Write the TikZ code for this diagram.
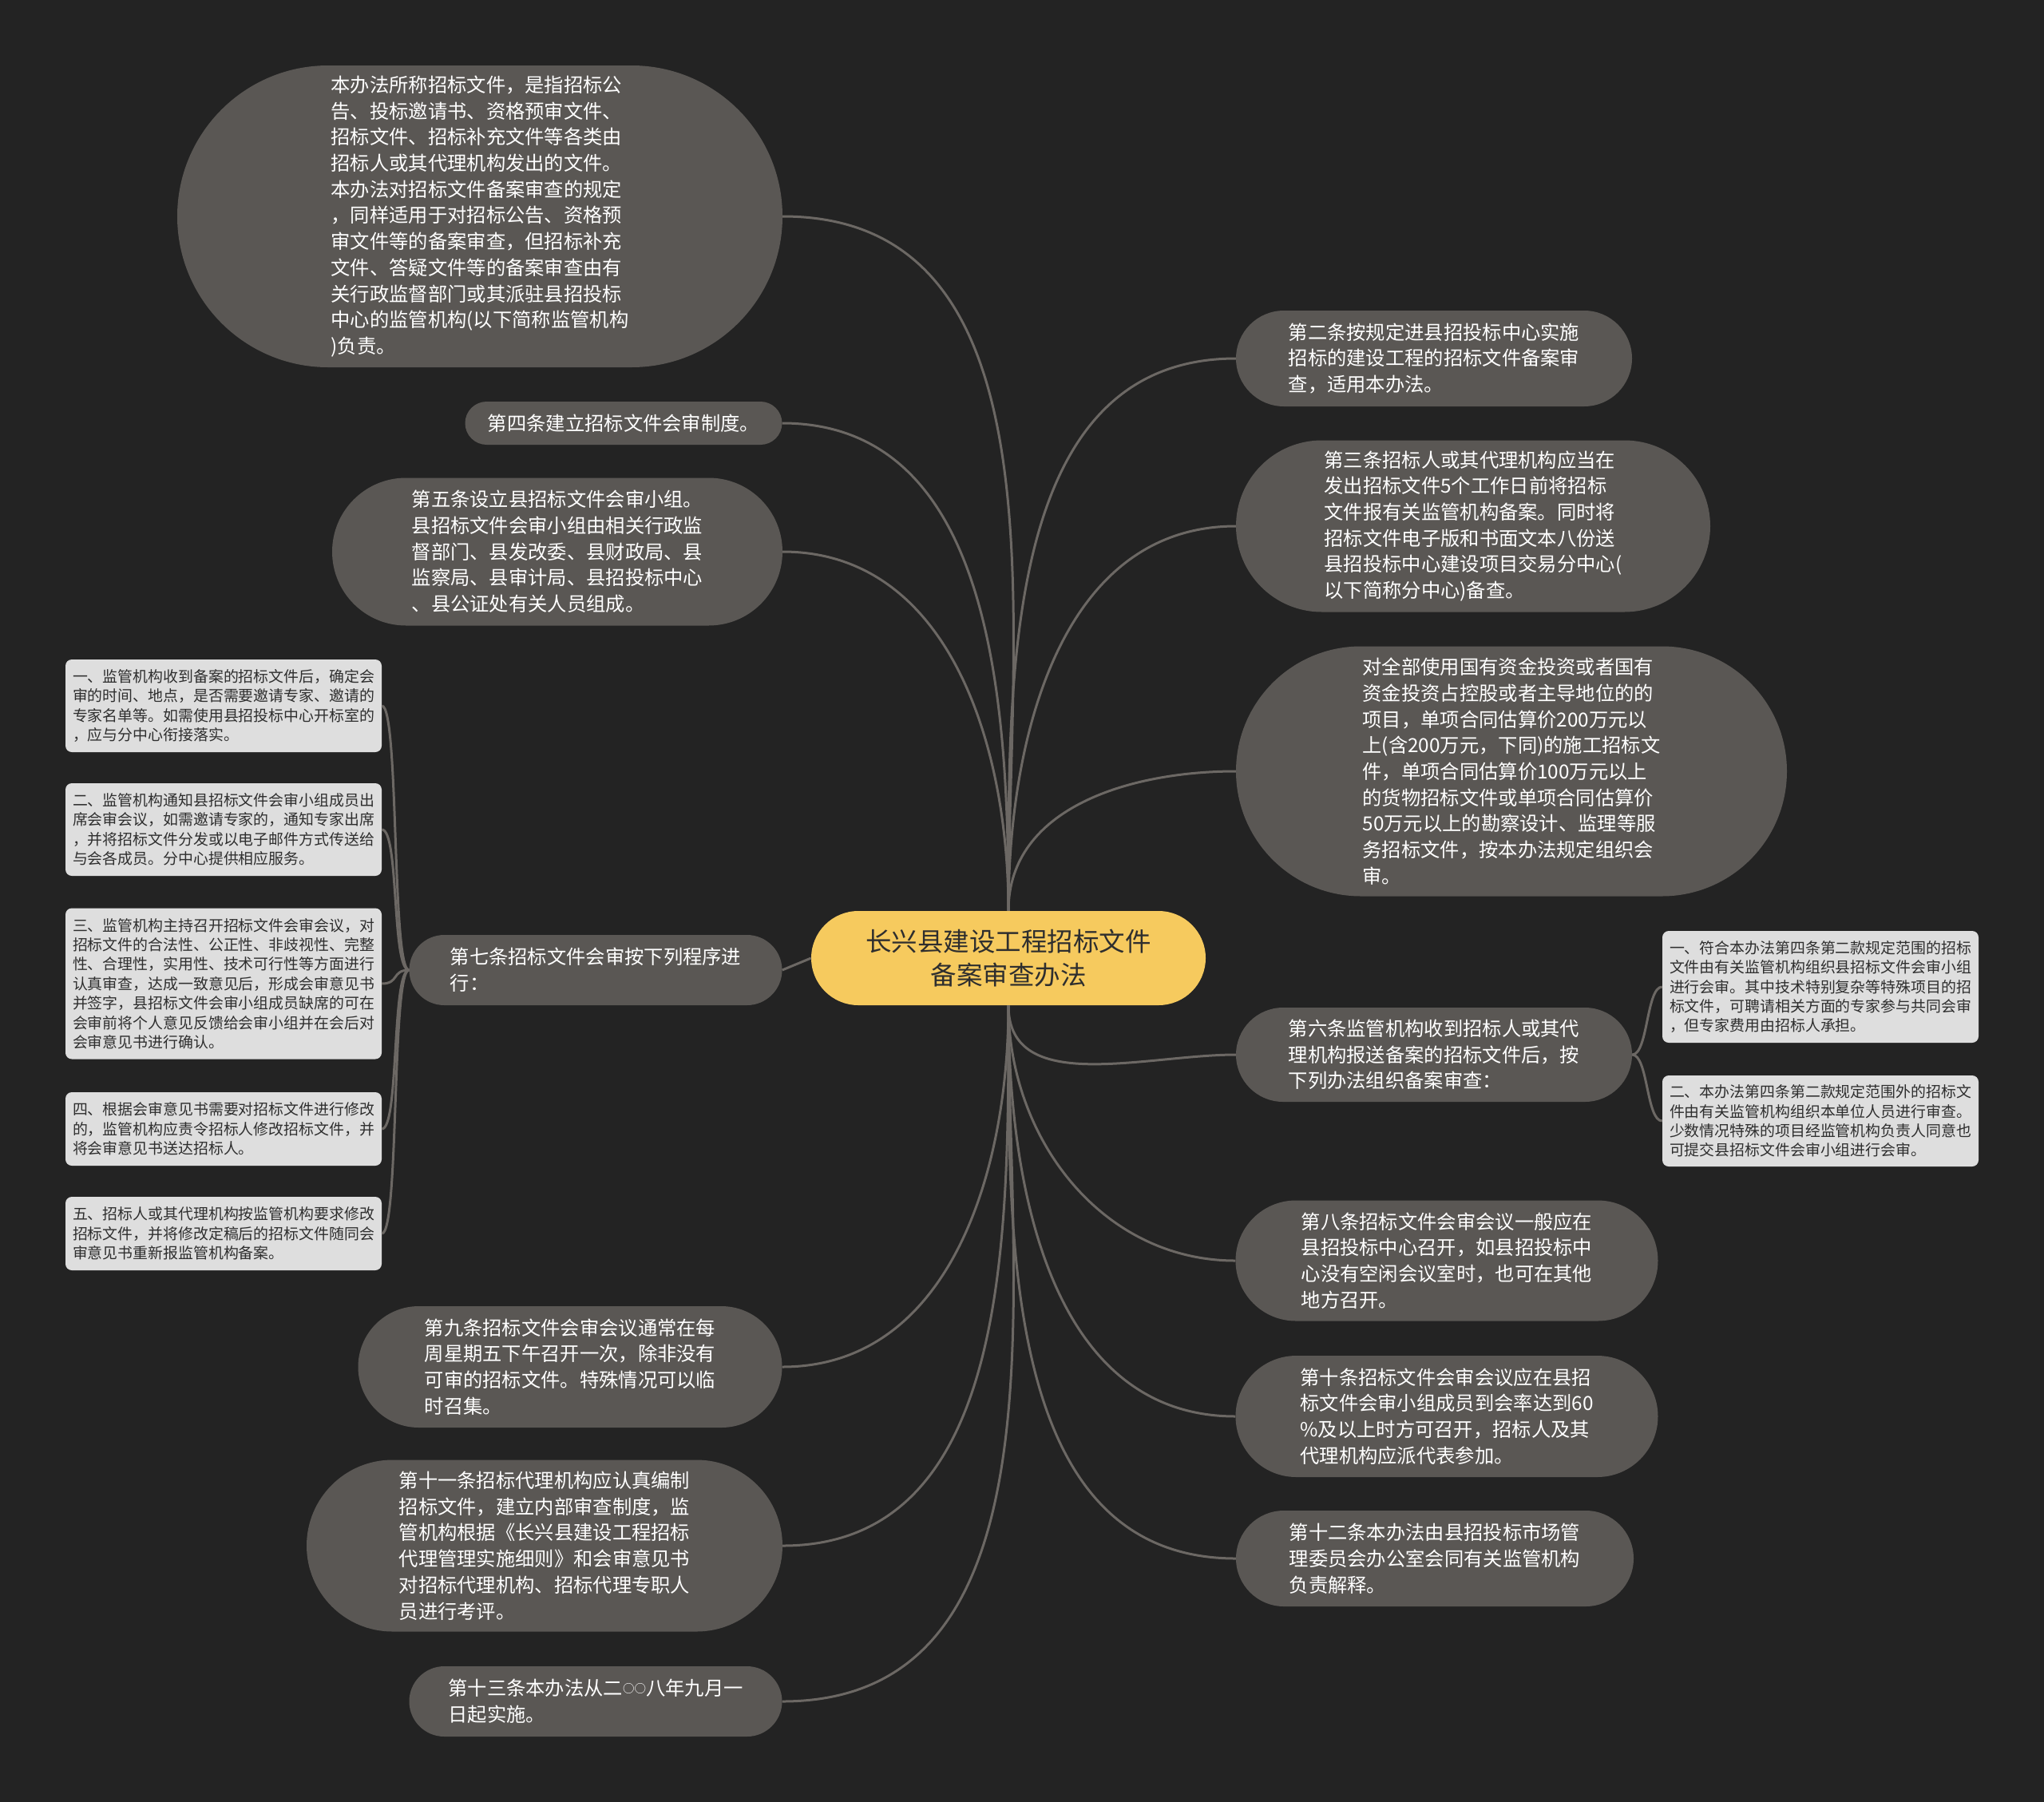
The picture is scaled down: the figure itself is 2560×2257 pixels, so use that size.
\documentclass[tikz,border=0pt]{standalone}
\usepackage{fontspec}
\setmainfont{Noto Sans CJK SC}
\usepackage{tikz}
\definecolor{MapBg}{HTML}{232323}
\definecolor{MapTopic}{HTML}{5A5754}
\definecolor{MapLeaf}{HTML}{DEDEDE}
\definecolor{MapRoot}{HTML}{F6CA5E}
\definecolor{MapLine}{HTML}{6C6864}
\definecolor{MapInk}{HTML}{2E2E2E}
\newcommand{\smallzero}{\raisebox{3.7pt}{\fontsize{14.5}{14.5}\selectfont ○}}
\tikzset{
  topic/.style 2 args={fill=MapTopic, text=white, align=left, inner sep=0pt,
    minimum width=#1, minimum height=#2, rounded corners=#2/2,
    font=\fontsize{24.3}{32.7}\selectfont},
  leaf/.style={fill=MapLeaf, text=MapInk, align=left, inner sep=0pt,
    minimum width=396, minimum height=#1, rounded corners=8,
    font=\fontsize{18.9}{24.4}\selectfont},
  root/.style={fill=MapRoot, text=MapInk, align=center, inner sep=0pt,
    minimum width=494, minimum height=118, rounded corners=59,
    font=\fontsize{32.5}{42.5}\selectfont},
  link/.style={draw=MapLine, line width=3pt},
}

\begin{document}
\begin{tikzpicture}[x=1pt, y=-1pt]
  \fill[MapBg] (0,0) rectangle (2560,2257);

  % centre
  \node[root] (hub) at (1263,1200) {长兴县建设工程招标文件\\备案审查办法};

  % right side
  \node[topic={496}{120}] (r1) at (1796,449)
    {第二条按规定进县招投标中心实施\\招标的建设工程的招标文件备案审\\查，适用本办法。};
  \node[topic={594}{215}] (r2) at (1845,659)
    {第三条招标人或其代理机构应当在\\发出招标文件5个工作日前将招标\\文件报有关监管机构备案。同时将\\招标文件电子版和书面文本八份送\\县招投标中心建设项目交易分中心(\\以下简称分中心)备查。};
  \node[topic={690}{313}] (r3) at (1893,966)
    {对全部使用国有资金投资或者国有\\资金投资占控股或者主导地位的的\\项目，单项合同估算价200万元以\\上(含200万元，下同)的施工招标文\\件，单项合同估算价100万元以上\\的货物招标文件或单项合同估算价\\50万元以上的勘察设计、监理等服\\务招标文件，按本办法规定组织会\\审。};
  \node[topic={496}{118}] (r4) at (1796,1321)
    {第六条监管机构收到招标人或其代\\理机构报送备案的招标文件后，按\\下列办法组织备案审查：};
  \node[topic={529}{151}] (r5) at (1812,1579)
    {第八条招标文件会审会议一般应在\\县招投标中心召开，如县招投标中\\心没有空闲会议室时，也可在其他\\地方召开。};
  \node[topic={529}{152}] (r6) at (1812,1774)
    {第十条招标文件会审会议应在县招\\标文件会审小组成员到会率达到60\\\%及以上时方可召开，招标人及其\\代理机构应派代表参加。};
  \node[topic={498}{120}] (r7) at (1797,1952)
    {第十二条本办法由县招投标市场管\\理委员会办公室会同有关监管机构\\负责解释。};

  % details of article six
  \node[leaf=140] (c1) at (2280,1236)
    {一、符合本办法第四条第二款规定范围的招标\\文件由有关监管机构组织县招标文件会审小组\\进行会审。其中技术特别复杂等特殊项目的招\\标文件，可聘请相关方面的专家参与共同会审\\，但专家费用由招标人承担。};
  \node[leaf=114] (c2) at (2280,1404)
    {二、本办法第四条第二款规定范围外的招标文\\件由有关监管机构组织本单位人员进行审查。\\少数情况特殊的项目经监管机构负责人同意也\\可提交县招标文件会审小组进行会审。};

  % left side
  \node[topic={758}{378}] (l1) at (601,271)
    {本办法所称招标文件，是指招标公\\告、投标邀请书、资格预审文件、\\招标文件、招标补充文件等各类由\\招标人或其代理机构发出的文件。\\本办法对招标文件备案审查的规定\\，同样适用于对招标公告、资格预\\审文件等的备案审查，但招标补充\\文件、答疑文件等的备案审查由有\\关行政监督部门或其派驻县招投标\\中心的监管机构(以下简称监管机构\\)负责。};
  \node[topic={397}{54}] (l2) at (781,530) {第四条建立招标文件会审制度。};
  \node[topic={564}{185}] (l3) at (698,691)
    {第五条设立县招标文件会审小组。\\县招标文件会审小组由相关行政监\\督部门、县发改委、县财政局、县\\监察局、县审计局、县招投标中心\\、县公证处有关人员组成。};
  \node[topic={467}{88}] (l4) at (746,1215)
    {第七条招标文件会审按下列程序进\\行：};
  \node[topic={531}{152}] (l5) at (714,1712)
    {第九条招标文件会审会议通常在每\\周星期五下午召开一次，除非没有\\可审的招标文件。特殊情况可以临\\时召集。};
  \node[topic={596}{215}] (l6) at (682,1936)
    {第十一条招标代理机构应认真编制\\招标文件，建立内部审查制度，监\\管机构根据《长兴县建设工程招标\\代理管理实施细则》和会审意见书\\对招标代理机构、招标代理专职人\\员进行考评。};
  \node[topic={467}{88}] (l7) at (746,2131)
    {第十三条本办法从二\smallzero\smallzero 八年九月一\\日起实施。};

  % steps of article seven
  \node[leaf=116] (k1) at (280,884)
    {一、监管机构收到备案的招标文件后，确定会\\审的时间、地点，是否需要邀请专家、邀请的\\专家名单等。如需使用县招投标中心开标室的\\，应与分中心衔接落实。};
  \node[leaf=116] (k2) at (280,1039)
    {二、监管机构通知县招标文件会审小组成员出\\席会审会议，如需邀请专家的，通知专家出席\\，并将招标文件分发或以电子邮件方式传送给\\与会各成员。分中心提供相应服务。};
  \node[leaf=189] (k3) at (280,1232)
    {三、监管机构主持召开招标文件会审会议，对\\招标文件的合法性、公正性、非歧视性、完整\\性、合理性，实用性、技术可行性等方面进行\\认真审查，达成一致意见后，形成会审意见书\\并签字，县招标文件会审小组成员缺席的可在\\会审前将个人意见反馈给会审小组并在会后对\\会审意见书进行确认。};
  \node[leaf=92] (k4) at (280,1414)
    {四、根据会审意见书需要对招标文件进行修改\\的，监管机构应责令招标人修改招标文件，并\\将会审意见书送达招标人。};
  \node[leaf=92] (k5) at (280,1545)
    {五、招标人或其代理机构按监管机构要求修改\\招标文件，并将修改定稿后的招标文件随同会\\审意见书重新报监管机构备案。};

  % connectors
  \foreach \n in {r1,r2,r3}
    \draw[link] (hub.north) to[out=90, in=180] (\n.west);
  \foreach \n in {r4,r5,r6,r7}
    \draw[link] (hub.south) to[out=-90, in=180] (\n.west);
  \foreach \n in {l1,l2,l3}
    \draw[link] (hub.north) to[out=90, in=0] (\n.east);
  \foreach \n in {l5,l6,l7}
    \draw[link] (hub.south) to[out=-90, in=0] (\n.east);
  \draw[link] (hub.west) -- (l4.east);
  \foreach \n in {k1,k2,k3,k4,k5}
    \draw[link] (l4.west) .. controls +(-22,0) and +(22,0) .. (\n.east);
  \foreach \n in {c1,c2}
    \draw[link] (r4.east) .. controls +(20,0) and +(-20,0) .. (\n.west);
\end{tikzpicture}
\end{document}
